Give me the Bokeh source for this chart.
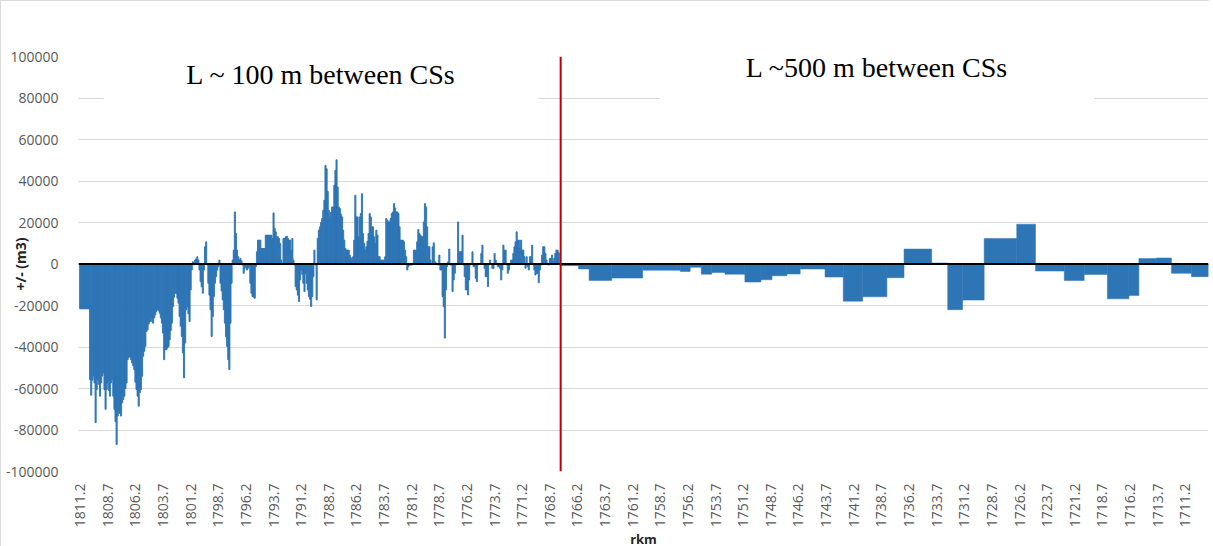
import math
from bokeh.plotting import figure
from bokeh.models import Range1d, FixedTicker, Span, Label, BoxAnnotation
from bokeh.embed import file_html
from bokeh.resources import INLINE

# ---------------- data ----------------
# Left reach: one value per cross-section, 100 m apart, starting at rkm 1811.2 going downstream
fine_start_rkm = 1811.2
fine_step_km = 0.1
fine_values = [
    -21600, -21600, -21600, -21600, -21600, -21600, -21600, -21600, -21600, -55700,
    -63200, -56000, -54000, -57300, -76500, -60500, -55700, -58000, -63700, -57300,
    -54000, -52500, -60500, -70000, -60500, -57300, -61000, -63700, -57300, -55700,
    -63700, -70000, -76000, -87000, -73300, -71700, -72000, -73300, -66900, -65300,
    -63700, -60000, -57300, -46100, -45000, -44500, -46100, -47700, -49000, -50900,
    -57000, -60500, -63700, -68500, -62000, -60500, -54100, -44500, -42000, -39700,
    -32500, -31700, -29000, -27700, -27700, -26100, -28500, -26000, -24500, -22900,
    -21800, -22500, -23700, -26000, -28500, -33300, -46100, -41300, -41300, -40500,
    -39700, -36500, -32000, -28500, -20500, -16000, -14100, -14100, -16500, -18900,
    -25300, -30000, -34900, -42900, -54900, -38100, -22100, -20500, -24000, -27700,
    -12500, -2900, 1100, -500, 1900, 2500, 3500, 1900, -2900, -8500,
    -11000, -14100, -2900, 8300, 10700, -500, -9300, -15000, -22100, -34900,
    -25300, -15700, -9300, -6100, -3000, -1300, 1900, -9300, -13000, -17300,
    -22100, -28500, -35000, -39700, -46100, -50900, -28500, -9300, 1900, 6700,
    25100, 14700, 6700, 3500, 1900, 2700, 1500, -500, -4500, -2100,
    -1300, -2900, -2000, -1300, -9300, -14100, -15700, -16000, -16500, -1300,
    6000, 11500, 11500, 11500, 7500, 7500, 7500, 7500, 13900, 13900,
    13900, 13900, 13900, 13900, 12300, 24600, 17100, 15500, 13100, 13100,
    12300, 9900, 1900, 300, 12300, 12300, 13100, 13400, 12300, 11500,
    11500, 6700, 12300, 1900, -500, -10900, -12500, -15000, -18100, -7700,
    -2900, -5000, -9300, -13300, -4500, -9300, -12500, -15700, -17000, -20500,
    -15700, -6100, 6700, -500, -17300, 12300, 16300, 17900, 20000, 21900,
    25900, 30700, 47500, 45900, 35000, 25900, 22700, 25000, 27500, 27500,
    38000, 45100, 50200, 37100, 27500, 26700, 24000, 22700, 16300, 11500,
    7500, 6700, 6700, 6700, 4300, 3000, 1900, 3500, 11500, 33100,
    22700, 22700, 13100, 22700, 24300, 33900, 14700, 10000, 6700, 8300,
    11000, 14700, 24300, 22700, 17900, 17900, 13100, 9900, 16300, 13900,
    3500, 3500, 1900, 1900, 1900, 1900, 3500, 21900, 21100, 20300,
    20300, 21900, 24300, 25100, 29100, 27000, 25100, 25100, 24300, 17900,
    11500, 11500, 11500, 10700, 6700, 3500, -2900, -1300, -500, -500,
    -500, 300, 6700, 6700, 6700, 10700, 16600, 14700, 13900, 13100,
    13100, 20300, 29100, 27500, 17900, 8300, 8300, 1900, 300, 8300,
    10200, 1100, 500, -300, -500, 4300, -2900, -2900, -15700, -20500,
    -35700, -12500, -1300, 1100, 7200, -500, -500, -13300, -7700, -4500,
    -500, 300, 20300, 5900, 5900, 5900, 13900, -500, -6100, -12500,
    -12500, -14900, -7700, -500, 300, 5900, -1300, -1300, -6900, -8500,
    -500, 300, 300, 5100, 9100, 300, -2100, -6100, -6100, -10900,
    -500, 1900, 300, -2100, -2100, 5100, 1900, 300, -1300, -1300,
    -2100, -7700, -2900, 9100, 6700, 6700, -500, -4500, -2900, -500,
    1900, 1900, 5100, 8300, 10700, 15500, 11500, 11500, 7500, 11500,
    6700, 6700, 3500, -2100, 3500, -1300, -2900, 3500, 3500, 9100,
    300, -2900, -5300, -4500, -4500, -9000, -2900, -500, 4300, 8300,
    8300, 5100, 1900, 300, -500, 2700, 2700, 4300, 1100, 2700,
    5100, 6700, 6700, 5400, 300, -800,
]

# Right reach: cross-sections ~500 m apart (segment edges in rkm, one value per segment)
coarse_edges = [
    1767.7, 1766.1, 1765.15, 1763.1, 1760.3, 1756.9, 1756.0, 1755.0, 1754.05, 1752.85,
    1751.05, 1749.6, 1748.6, 1747.25, 1746.05, 1743.8, 1742.15, 1740.4, 1738.2, 1736.65,
    1734.15, 1732.7, 1731.35, 1729.4, 1726.45, 1724.75, 1722.15, 1720.35, 1718.25, 1716.3,
    1715.4, 1713.8, 1712.45, 1710.65, 1709.1,
]
coarse_values = [
    -800, -2400, -7900, -6800, -3000, -3600, -1600, -4900, -4100, -4900,
    -8700, -7600, -5700, -4800, -2400, -6300, -17900, -15800, -6600, 7200,
    500, -22000, -17400, 12300, 19200, -3400, -8000, -5000, -16800, -15200,
    2600, 2900, -4500, -6100,
]

divider_rkm = 1767.72

x_tick_labels = [
    "1811.2", "1808.7", "1806.2", "1803.7", "1801.2", "1798.7", "1796.2", "1793.7",
    "1791.2", "1788.7", "1786.2", "1783.7", "1781.2", "1778.7", "1776.2", "1773.7",
    "1771.2", "1768.7", "1766.2", "1763.7", "1761.2", "1758.7", "1756.2", "1753.7",
    "1751.2", "1748.7", "1746.2", "1743.7", "1741.2", "1738.7", "1736.2", "1733.7",
    "1731.2", "1728.7", "1726.2", "1723.7", "1721.2", "1718.7", "1716.2", "1713.7",
    "1711.2",
]
y_tick_labels = ["-100000", "-80000", "-60000", "-40000", "-20000", "0",
                 "20000", "40000", "60000", "80000", "100000"]

annotation_left = "L ~ 100 m between CSs"
annotation_right = "L ~500 m between CSs"
x_title = "rkm"
y_title = "+/- (m3)"

# ---------------- figure ----------------
fine_rkm = [round(fine_start_rkm - fine_step_km * i, 2) for i in range(len(fine_values))]
x_ticks = [float(s) for s in x_tick_labels]
y_ticks = [float(s) for s in y_tick_labels]

p = figure(frame_width=1130, frame_height=415,
           x_range=Range1d(1811.35, 1709.1), y_range=Range1d(-100000, 100000),
           output_backend="svg", toolbar_location=None,
           min_border_left=77, min_border_right=1, min_border_top=55, min_border_bottom=64)
p.styles = {"border-top": "1px solid #D9D9D9", "border-left": "1px solid #D9D9D9"}
p.outline_line_color = None
p.background_fill_color = "white"
p.border_fill_color = "white"

bar_color = "#2E75B6"

# white boxes behind the reach annotations
p.add_layout(BoxAnnotation(left=1809.1, right=1769.75, bottom=75200, top=120000,
                           fill_color="white", fill_alpha=1.0, line_color=None, level="underlay"))
p.add_layout(BoxAnnotation(left=1758.7, right=1719.45, bottom=77600, top=120000,
                           fill_color="white", fill_alpha=1.0, line_color=None, level="underlay"))

p.vbar(x=fine_rkm, top=fine_values, bottom=0, width=fine_step_km,
       fill_color=bar_color, line_color=bar_color, line_width=0.9)
p.quad(left=coarse_edges[:-1], right=coarse_edges[1:], top=coarse_values, bottom=0,
       fill_color=bar_color, line_color=bar_color, line_width=0.5)

p.add_layout(Span(location=0, dimension="width", line_color="black", line_width=2))
p.add_layout(Span(location=divider_rkm, dimension="height", line_color="#C00000", line_width=2))

# grid
p.xgrid.grid_line_color = None
p.ygrid.ticker = FixedTicker(ticks=y_ticks)
p.ygrid.grid_line_color = "#D9D9D9"
p.ygrid.grid_line_width = 1
p.ygrid.level = "underlay"

# axes
tick_font = "Open Sans"
p.xaxis.ticker = FixedTicker(ticks=x_ticks)
p.xaxis.major_label_overrides = {t: s for t, s in zip(x_ticks, x_tick_labels)}
p.xaxis.major_label_orientation = math.pi / 2
p.xaxis.axis_line_color = None
p.xaxis.major_tick_line_color = None
p.xaxis.minor_tick_line_color = None
p.xaxis.major_label_standoff = 6
p.xaxis.major_label_text_font = tick_font
p.xaxis.major_label_text_font_size = "14px"
p.xaxis.major_label_text_color = "#595959"
p.xaxis.axis_label = x_title
p.xaxis.axis_label_standoff = 0
p.xaxis.axis_label_text_font = tick_font
p.xaxis.axis_label_text_font_style = "bold"
p.xaxis.axis_label_text_font_size = "13px"
p.xaxis.axis_label_text_color = "#262626"

p.yaxis.ticker = FixedTicker(ticks=y_ticks)
p.yaxis.major_label_overrides = {t: s for t, s in zip(y_ticks, y_tick_labels)}
p.yaxis.axis_line_color = None
p.yaxis.major_tick_line_color = None
p.yaxis.minor_tick_line_color = None
p.yaxis.major_label_standoff = 14
p.yaxis.major_label_text_font = tick_font
p.yaxis.major_label_text_font_size = "14px"
p.yaxis.major_label_text_color = "#595959"
p.yaxis.axis_label = y_title
p.yaxis.axis_label_standoff = -27
p.yaxis.axis_label_text_font = tick_font
p.yaxis.axis_label_text_font_style = "bold"
p.yaxis.axis_label_text_font_size = "14px"
p.yaxis.axis_label_text_color = "#262626"

# reach annotations
p.add_layout(Label(x=1789.4, y=91100, text=annotation_left, text_align="center",
                   text_baseline="middle", text_font="Liberation Serif",
                   text_font_size="28px", text_color="black"))
p.add_layout(Label(x=1739.1, y=94900, text=annotation_right, text_align="center",
                   text_baseline="middle", text_font="Liberation Serif",
                   text_font_size="28px", text_color="black"))

open("out.html", "w").write(file_html(p, INLINE))
